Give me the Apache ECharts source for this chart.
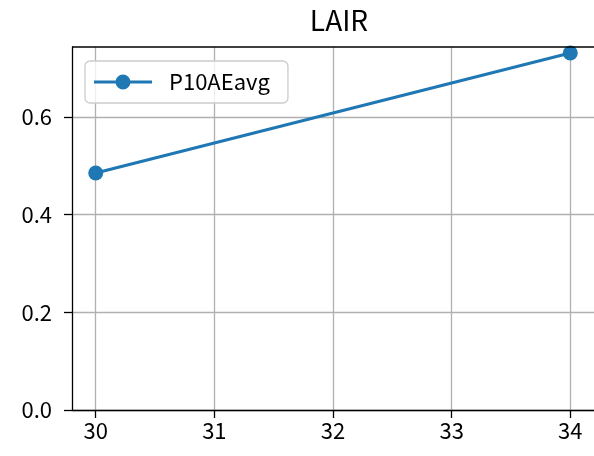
<!DOCTYPE html>
<html>
<head>
<meta charset="utf-8">
<script src="https://cdn.jsdelivr.net/npm/echarts@6/dist/echarts.min.js"></script>
<style>html,body{margin:0;padding:0;background:#fff;}#c{width:594px;height:456px;}</style>
</head>
<body>
<div id="c"></div>
<script>
var titleText = 'LAIR';
var seriesName = 'P10AEavg';
var xValues = [30, 34];
var yValues = [0.4853, 0.731];
var xTicks = [30, 31, 32, 33, 34];
var xRange = [29.8, 34.2];
var yRange = [0, 0.7433];
var yStep = 0.2;

var FONT = '"Noto Sans CJK SC", "Noto Sans", sans-serif';
var chart = echarts.init(document.getElementById('c'), null, {renderer: 'canvas'});
chart.setOption({
  animation: false,
  backgroundColor: '#ffffff',
  title: {
    text: titleText, left: 334, top: 1, textAlign: 'center',
    textStyle: {fontFamily: FONT, fontSize: 28, fontWeight: 'normal', color: '#000'}
  },
  legend: {
    left: 85, top: 61,
    itemWidth: 58, itemHeight: 15,
    icon: 'path://M0,6 L58,6 L58,9 L0,9 Z M21.5,7.5 A7.5,7.5 0 1,1 36.5,7.5 A7.5,7.5 0 1,1 21.5,7.5 Z',
    backgroundColor: 'rgba(255,255,255,0.8)',
    borderColor: '#cccccc', borderWidth: 1.3, borderRadius: 5,
    padding: [10, 18, 10, 9],
    textStyle: {fontFamily: FONT, fontSize: 22, color: '#000', padding: [0, 0, 0, 12]},
    data: [seriesName]
  },
  grid: {left: 72, top: 47, width: 525, height: 363, show: false},
  xAxis: {
    type: 'value', min: xRange[0], max: xRange[1],
    axisLine: {show: true, onZero: false, lineStyle: {color: '#000', width: 1.3}},
    axisTick: {show: true, length: 8, lineStyle: {color: '#000', width: 1.3}, customValues: xTicks},
    axisLabel: {fontFamily: FONT, fontSize: 22, color: '#000', margin: 10, customValues: xTicks},
    splitLine: {show: true, lineStyle: {color: '#b0b0b0', width: 1.3}}
  },
  yAxis: {
    type: 'value', min: yRange[0], max: yRange[1], interval: yStep,
    axisLine: {show: true, onZero: false, lineStyle: {color: '#000', width: 1.3}},
    axisTick: {show: true, length: 8, lineStyle: {color: '#000', width: 1.3}},
    axisLabel: {fontFamily: FONT, fontSize: 22, color: '#000', margin: 20, showMaxLabel: false,
      formatter: function (v) { return v.toFixed(1); }},
    splitLine: {show: true, showMaxLine: false, lineStyle: {color: '#b0b0b0', width: 1.3}}
  },
  graphic: [{
    type: 'line', shape: {x1: 72, y1: 47, x2: 594, y2: 47}, z: 100,
    style: {stroke: '#000', lineWidth: 1.3}
  }],
  series: [{
    name: seriesName, type: 'line',
    data: xValues.map(function (x, i) { return [x, yValues[i]]; }),
    symbol: 'circle', symbolSize: 15, showSymbol: true,
    itemStyle: {color: '#1f77b4'},
    lineStyle: {color: '#1f77b4', width: 3},
    clip: false, z: 3
  }]
});
</script>
</body>
</html>
